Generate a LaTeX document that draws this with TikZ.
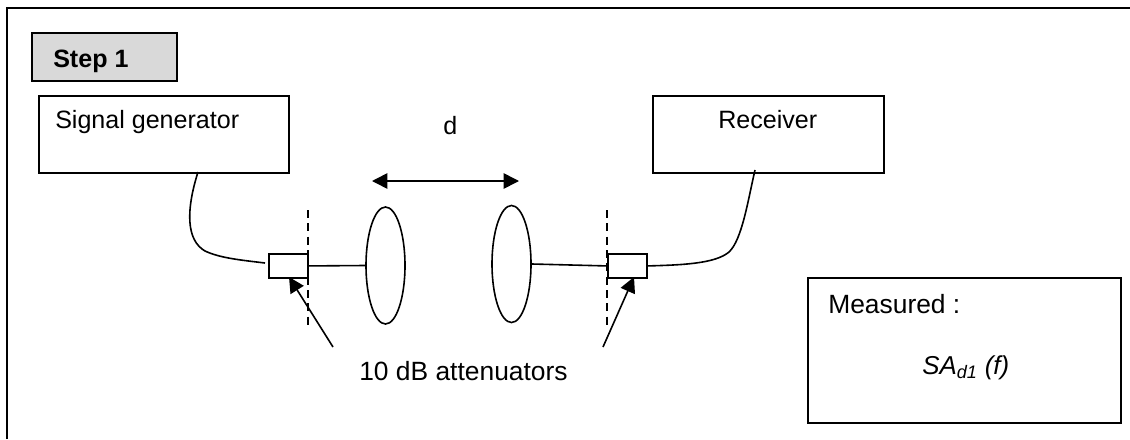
\documentclass[tikz,border=0pt]{standalone}
\usepackage{fontspec}
\setmainfont{Liberation Sans}
\usetikzlibrary{arrows.meta,shapes.geometric}
\tikzset{
  x=0.75pt,y=-0.75pt,
  box/.style={draw,line width=1.4pt,inner sep=0pt,anchor=north west},
  wire/.style={line width=1.2pt},
  guide/.style={line width=1.2pt,dash pattern=on 6pt off 4pt},
  pointer/.style={line width=1.2pt,-{Triangle[length=11.5pt,width=11.5pt]}},
  ant/.style={draw,line width=1.2pt,ellipse,minimum width=29.25pt,minimum height=87.75pt,inner sep=0pt},
  lbl/.style={inner sep=0pt,anchor=base west,font=\fontsize{18.8pt}{22pt}\selectfont},
  lblb/.style={inner sep=0pt,anchor=base west,font=\fontsize{19.8pt}{22pt}\selectfont},
}
\begin{document}
\begin{tikzpicture}
\useasboundingbox (0,0) rectangle (1130,439);
\node[box,minimum width=187.5pt,minimum height=57.75pt] (gen) at (38,95) {};
\node[box,minimum width=173.25pt,minimum height=57.75pt] (rx) at (652,95) {};
\node[box,fill=black!15,minimum width=108.75pt,minimum height=36pt] (stepb) at (31,32) {};
\node[box,minimum width=234.75pt,minimum height=108.75pt] (meas) at (807,277) {};
\node[box,minimum width=29pt,minimum height=18pt] (attl) at (268,253) {};
\node[box,minimum width=29pt,minimum height=18pt] (attr) at (607,253) {};
\node[ant] (antl) at (385.5,265.5) {};
\node[ant] (antr) at (511.5,264) {};
\coordinate (fbl) at (7,439);
\coordinate (ftl) at (7,8);
\coordinate (ftr) at (1130,8);
\draw[line width=1.4pt] (fbl) -- (ftl) -- (ftr);
\node[lbl,font=\fontsize{18.8pt}{22pt}\selectfont\bfseries] (steptxt) at (53,67) {Step 1};
\node[lbl] (gentxt) at (55,128) {Signal generator};
\node[lbl] (rxtxt) at (718,128) {Receiver};
\node[lbl] (dtxt) at (443,134) {d};
\node[lblb] (attxt) at (359,380) {10 dB attenuators};
\node[lblb] (meastxt) at (828,313) {Measured :};
\node[lbl,font=\fontsize{19.4pt}{22pt}\selectfont] (satxt) at (922,374) {\itshape SA\textsubscript{d1} (f)};
\coordinate (gout) at (198,172);
\coordinate (gend) at (265,263);
\coordinate (rout) at (755,170);
\coordinate (pl) at (333,347);
\coordinate (pr) at (603,347);
\coordinate (ptr) at (634,277);
\coordinate (ptl) at (289,277);
\coordinate (dl) at (372,181);
\coordinate (dr) at (519,181);
\coordinate (gl1) at (308,210);
\coordinate (gl2) at (308,325);
\coordinate (gr1) at (607,210);
\coordinate (gr2) at (607,325);
\draw[guide] (gl1) -- (gl2);
\draw[guide] (gr1) -- (gr2);
\draw[wire] (gout) .. controls (186,210) and (186,240) .. (205,251) .. controls (220,258) and (240,260) .. (gend);
\draw[wire] (attl.east) -- (antl.west);
\draw[wire] (antr.east) -- (attr.west);
\draw[wire] (attr.east) .. controls (680,265) and (715,264) .. (729,252) .. controls (742,240) and (748,200) .. (rout);
\draw[pointer] (pl) -- (ptl);
\draw[pointer] (pr) -- (ptr);
\draw[line width=1.2pt,{Triangle[length=11.5pt,width=11.5pt]}-{Triangle[length=11.5pt,width=11.5pt]}] (dl) -- (dr);
\end{tikzpicture}
\end{document}
